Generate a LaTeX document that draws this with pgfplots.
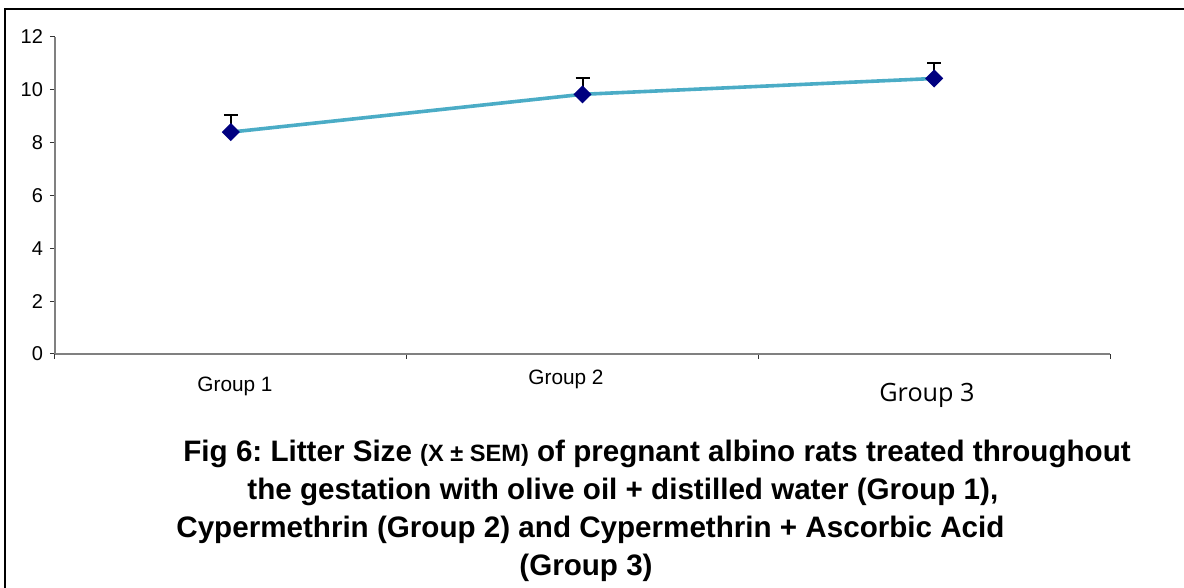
\documentclass[border=0pt]{standalone}
\usepackage{pgfplots}
\pgfplotsset{compat=1.18}
\usepackage{fontspec}
\setmainfont{Liberation Sans}
\newfontfamily\groupthree{Open Sans}
\definecolor{lineblue}{HTML}{4BACC6}
\definecolor{marknavy}{HTML}{000080}
\definecolor{axisgray}{HTML}{808080}
\frenchspacing
\begin{document}
\begin{tikzpicture}[x=0.5pt,y=-0.5pt]
\useasboundingbox (0,0) rectangle (1184,588);
\draw[line width=1pt] (5,588) -- (5,9) -- (1184,9);
\begin{axis}[
  at={(27.5pt,-177pt)}, anchor=south west,
  scale only axis, width=527.5pt, height=158.5pt,
  xmin=-0.5, xmax=2.5, ymin=0, ymax=12,
  ytick={0,2,...,12},
  xtick={-0.5,0.5,1.5,2.5}, xticklabels={},
  axis lines*=left,
  axis line style={axisgray, line width=1pt},
  tick align=outside, major tick length=2.5pt,
  tick style={black!80, line width=0.5pt},
  every tick label/.append style={font=\fontsize{10}{12}\selectfont},
  /pgf/number format/assume math mode=true,
  clip=false,
]
\addplot[lineblue, line width=1.8pt, mark=square*, mark size=2.3pt,
  mark options={marknavy, solid, rotate=45},
  error bars/.cd, y dir=plus, y explicit,
  error bar style={black, line width=1pt},
  error mark options={rotate=90, mark size=3.5pt, black, line width=1pt}]
  coordinates {(0,8.4) +- (0,0.65) (1,9.83) +- (0,0.63) (2,10.43) +- (0,0.57)};
\end{axis}
\node[anchor=base, font=\fontsize{10.4}{12}\selectfont] at (235,392) {Group 1};
\node[anchor=base, font=\fontsize{10.4}{12}\selectfont] at (566,385) {Group 2};
\node[anchor=base, font=\groupthree\fontsize{12.6}{14}\selectfont] at (927,401) {Group 3};
\begin{scope}[every node/.style={anchor=base west, inner sep=0pt, font=\bfseries\fontsize{14.8}{17}\selectfont}]
\node at (183,461) {Fig 6: Litter Size {\fontsize{11.8}{14}\selectfont(X ± SEM)} of pregnant albino rats treated throughout};
\node at (247,499) {the gestation with olive oil + distilled water (Group 1),};
\node at (176,537) {Cypermethrin (Group 2) and Cypermethrin + Ascorbic Acid};
\node at (519,575) {(Group 3)};
\end{scope}
\end{tikzpicture}
\end{document}
